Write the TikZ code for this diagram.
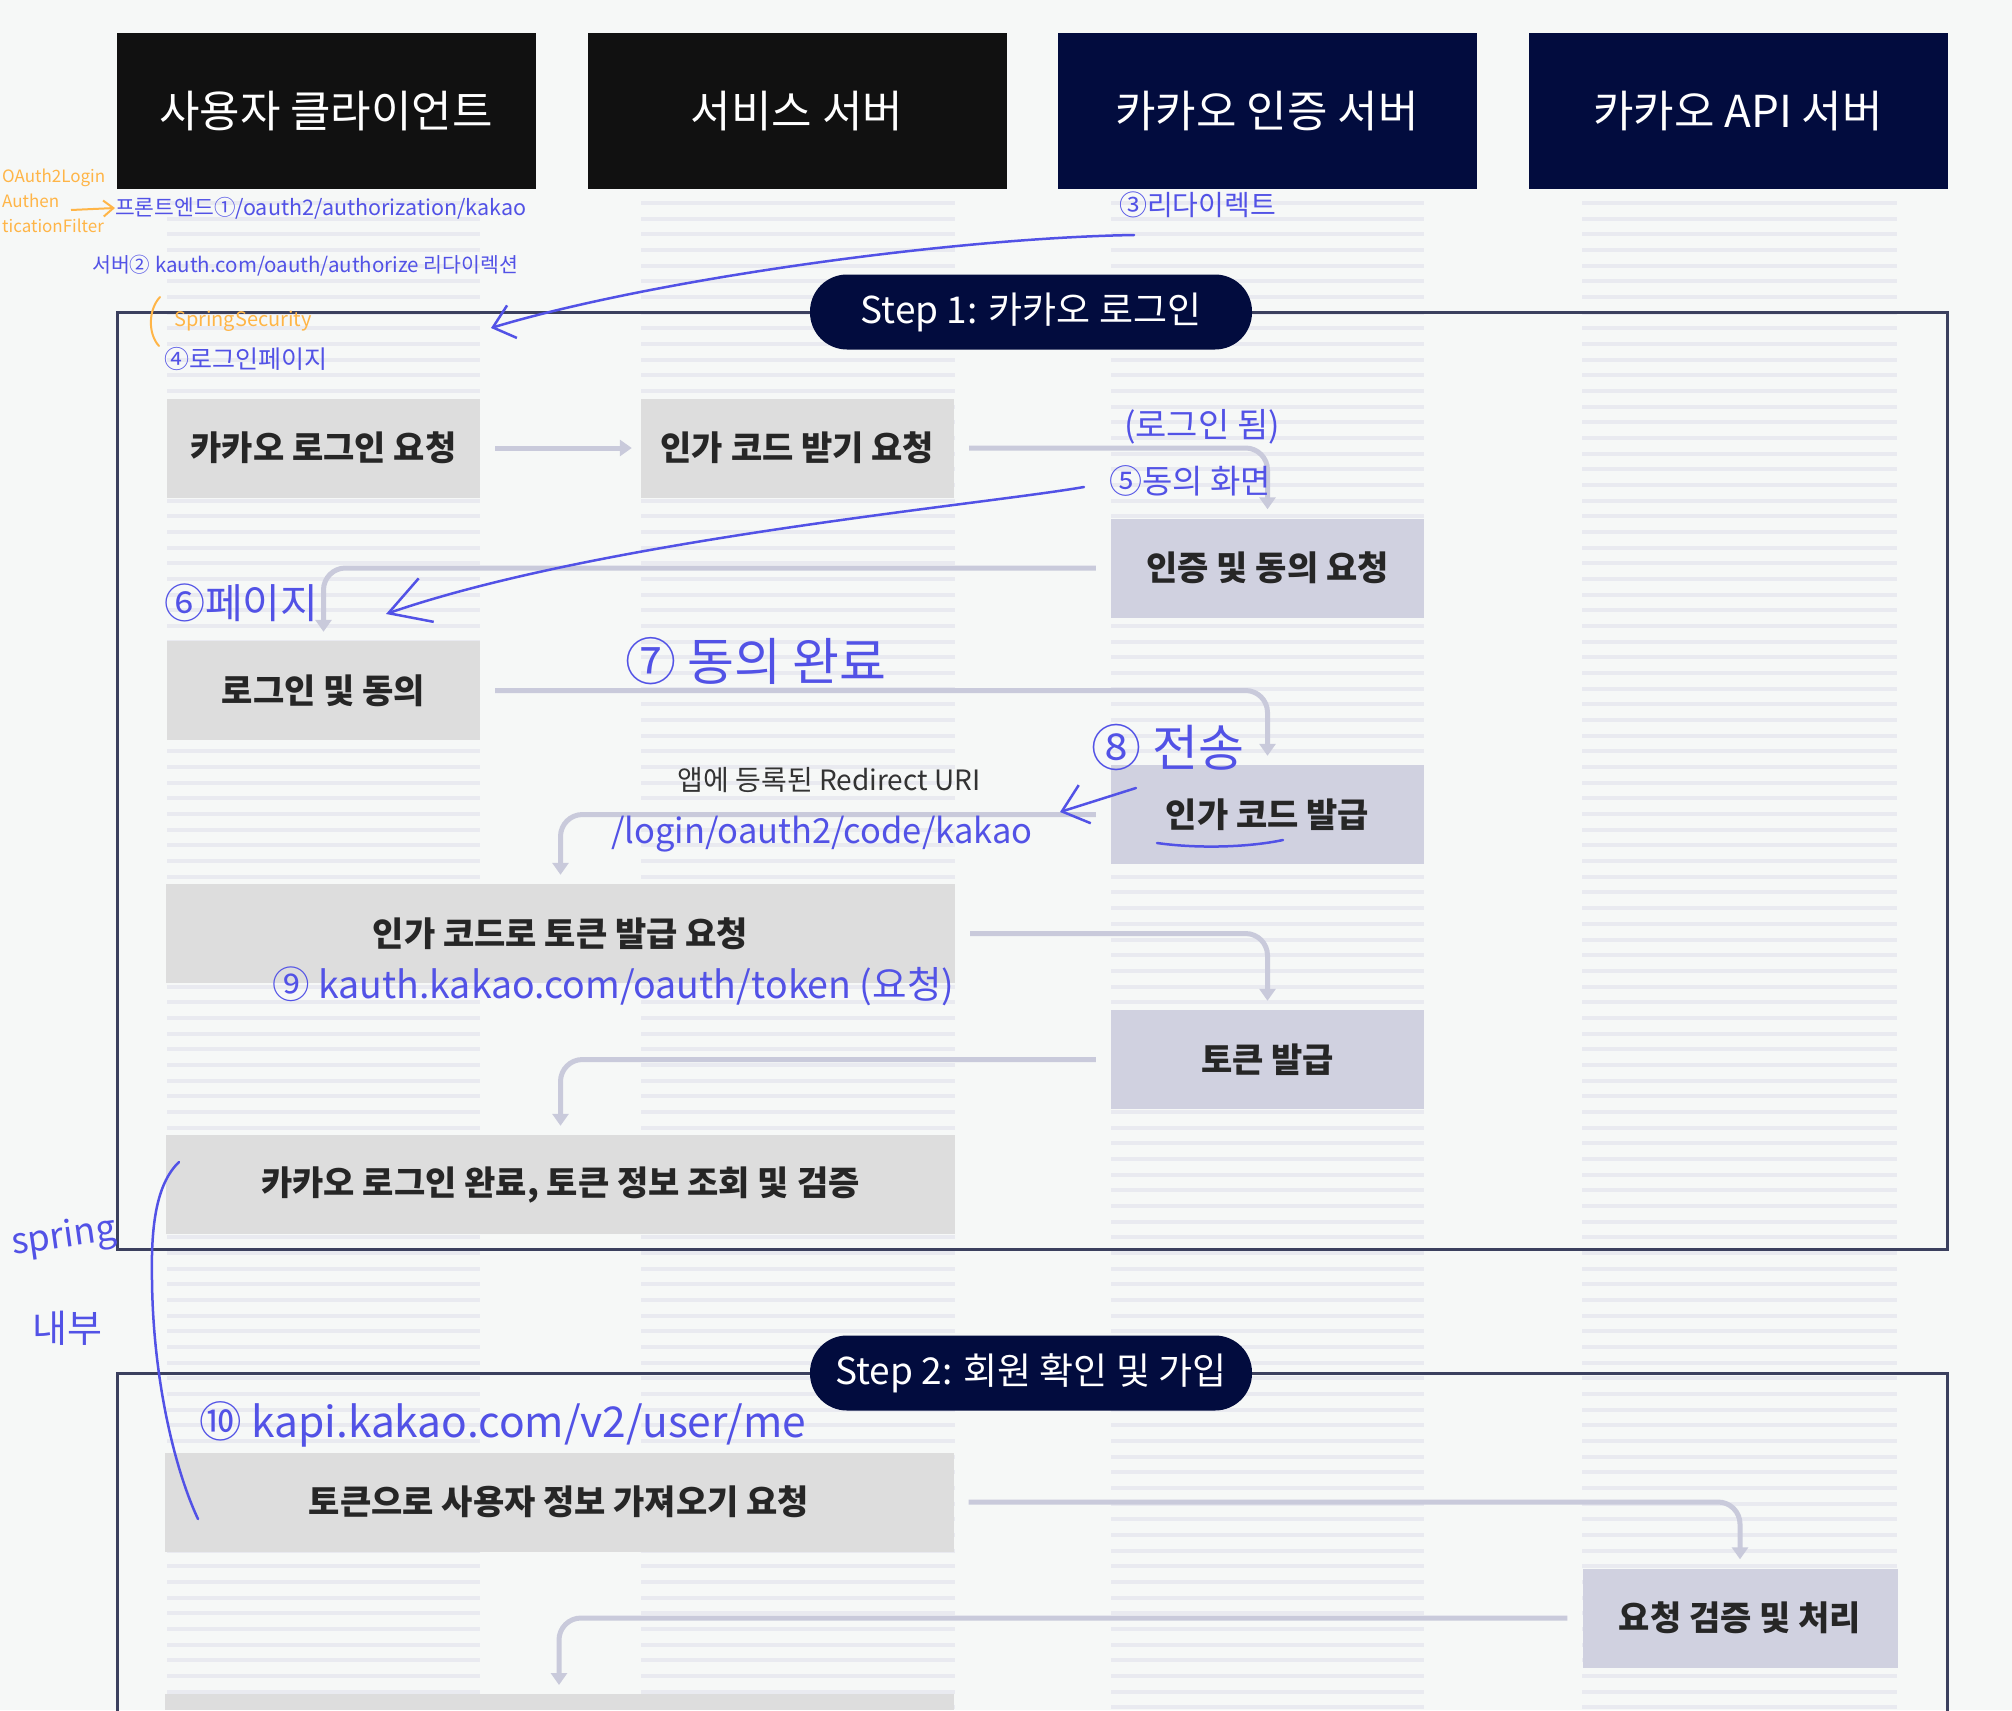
\documentclass[tikz,border=0pt]{standalone}
\usepackage{fontspec}
\newfontfamily\kr{Noto Sans CJK KR}
\usetikzlibrary{arrows.meta}
\definecolor{bgpage}{HTML}{F6F8F7}
\definecolor{headblack}{HTML}{111111}
\definecolor{navy}{HTML}{020C3E}
\definecolor{boxgray}{HTML}{DDDDDD}
\definecolor{boxlav}{HTML}{D0D1E0}
\definecolor{stripec}{HTML}{E9EAF0}
\definecolor{framec}{HTML}{3B405E}
\definecolor{flowc}{HTML}{C9CADB}
\definecolor{penblue}{HTML}{5252E6}
\definecolor{penorange}{HTML}{FFB547}
\begin{document}
\begin{tikzpicture}[x=1pt, y=-1pt, every node/.style={font=\kr},
  head/.style={fill=#1, text=white, minimum width=419, minimum height=156, inner sep=0pt, font=\kr\fontsize{44}{52}\selectfont},
  act/.style={fill=#1, text=black!85, minimum width=313, minimum height=99, inner sep=0pt, font=\kr\bfseries\fontsize{34}{40}\selectfont},
  wide/.style={act=boxgray, minimum width=789},
  pill/.style={fill=navy, text=white, rounded corners=37, minimum width=442, minimum height=75, inner sep=0pt, font=\kr\fontsize{37}{44}\selectfont},
  frame/.style={draw=framec, line width=3},
  flow/.style={draw=flowc, line width=5, rounded corners=22, -{Triangle[length=12,width=16]}, shorten <=15, shorten >=9},
  hand/.style={text=penblue, inner sep=0pt, anchor=west, font=\kr\fontsize{#1}{#1}\selectfont},
  handline/.style={draw=penblue, line width=2.5, line cap=round},
  orangehand/.style={text=penorange, inner sep=0pt, anchor=west, font=\kr\fontsize{#1}{#1}\selectfont}]
\useasboundingbox[fill=bgpage] (0,0) rectangle (2012,1710);
\foreach \xa/\xb in {167/480,641/955,1111/1424,1582/1897}
  \foreach \k in {0,...,96}
    \fill[stripec] (\xa,{201+15.67*\k}) rectangle (\xb,{205+15.67*\k});

\node[head=headblack] (client) at (326,111) {사용자 클라이언트};
\node[head=headblack] (service) at (797,111) {서비스 서버};
\node[head=navy] (kauth) at (1267,111) {카카오 인증 서버};
\node[head=navy] (kapi) at (1738,111) {카카오 API 서버};

\draw[frame] (117,312) rectangle (1947,1249);
\draw[frame] (117,1712) -- (117,1373) -- (1947,1373) -- (1947,1712);
\node[pill] (step1) at (1031,312) {Step 1: 카카오 로그인};
\node[pill] (step2) at (1031,1373) {Step 2: 회원 확인 및 가입};

\node[act=boxgray] (loginreq) at (323.5,448) {카카오 로그인 요청};
\node[act=boxgray] (codereq) at (797.5,448) {인가 코드 받기 요청};
\node[act=boxlav] (consentreq) at (1267.5,568) {인증 및 동의 요청};
\node[act=boxgray] (consent) at (323.5,690.5) {로그인 및 동의};
\node[act=boxlav] (codeissue) at (1267.5,814.5) {인가 코드 발급};
\node[wide] (tokenreq) at (560.5,933.5) {인가 코드로 토큰 발급 요청};
\node[act=boxlav] (tokenissue) at (1267.5,1059.5) {토큰 발급};
\node[wide] (logindone) at (560.5,1184.5) {카카오 로그인 완료, 토큰 정보 조회 및 검증};
\node[wide] (userreq) at (559,1502) {토큰으로 사용자 정보 가져오기 요청};
\node[act=boxlav, minimum width=315] (verify) at (1740,1618) {요청 검증 및 처리};
\node[wide, minimum height=16, anchor=north] (nextstep) at (559,1694) {};

\draw[flow] (loginreq) -- (codereq);
\draw[flow] (codereq.east) -| (consentreq.north);
\draw[flow] (consentreq.west) -| (consent.north);
\draw[flow] (consent.east) -| (codeissue.north);
\draw[flow] (codeissue.west) -| (tokenreq.north);
\draw[flow] (tokenreq.east) -| (tokenissue.north);
\draw[flow] (tokenissue.west) -| (logindone.north);
\draw[flow] (userreq.east) -| (verify.north);
\draw[flow] (verify.west) -| (nextstep.north);
\node[text=black!80, font=\kr\fontsize{28}{32}\selectfont] (redirlbl) at (829,780) {앱에 등록된 Redirect URI};

\node[orangehand=17, align=left, font=\kr\fontsize{17}{25}\selectfont] (oafilter) at (2,201) {OAuth2Login\\Authen\\ticationFilter};
\node[hand=21.5] (front) at (115,208) {프론트엔드①/oauth2/authorization/kakao};
\node[hand=20.5] (server) at (92,266) {서버② kauth.com/oauth/authorize 리다이렉션};
\node[orangehand=20] (spsec) at (174,321) {SpringSecurity};
\node[hand=25] (loginpage) at (164,359) {④로그인페이지};
\node[hand=28] (redirect) at (1119,205) {③리다이렉트};
\node[hand=34] (loggedin) at (1124,427) {(로그인 됨)};
\node[hand=33] (consentui) at (1109,481) {⑤동의 화면};
\node[hand=41] (page6) at (164,603) {⑥페이지};
\node[hand=51] (done7) at (625,661) {⑦ 동의 완료};
\node[hand=50] (send8) at (1091,747) {⑧ 전송};
\node[hand=34.5] (cbpath) at (611,834) {/login/oauth2/code/kakao};
\node[hand=37.5] (tokenurl) at (272,986) {⑨ kauth.kakao.com/oauth/token (요청)};
\node[hand=36, rotate=8, anchor=center] (springw) at (64,1238) {spring};
\node[hand=38, anchor=center] (inner) at (67,1328) {내부};
\node[hand=42.5] (userurl) at (199,1424) {⑩ kapi.kakao.com/v2/user/me};

\coordinate (oatail) at (71,210);
\coordinate (r3s) at (1134,235);
\coordinate (r3e) at (491,328);
\coordinate (r5s) at (1084,487);
\coordinate (r5e) at (386,614);
\coordinate (r8s) at (1136,788);
\coordinate (r8e) at (1060,812);
\coordinate (ul1) at (1157,843);
\coordinate (ul2) at (1283,840);
\coordinate (brt) at (179,1162);
\coordinate (brm) at (152,1280);
\coordinate (brb) at (198,1519);
\coordinate (obt) at (160,297);
\coordinate (obb) at (159,346);
\draw[draw=penorange, line width=2, -{Straight Barb[length=10,width=16]}] (oatail) -- (front.west);
\draw[draw=penorange, line width=2, line cap=round] (obt) .. controls (148,310) and (148,334) .. (obb);
\draw[handline, -{Straight Barb[length=20,width=34]}] (r3s) .. controls (950,238) and (650,280) .. (r3e);
\draw[handline, -{Straight Barb[length=40,width=46]}] (r5s) .. controls (980,505) and (600,540) .. (r5e);
\draw[handline, -{Straight Barb[length=24,width=40]}] (r8s) -- (r8e);
\draw[handline] (ul1) .. controls (1200,849) and (1250,847) .. (ul2);
\draw[handline] (brt) .. controls (155,1185) and (151,1230) .. (brm) .. controls (153,1380) and (175,1470) .. (brb);
\end{tikzpicture}
\end{document}
